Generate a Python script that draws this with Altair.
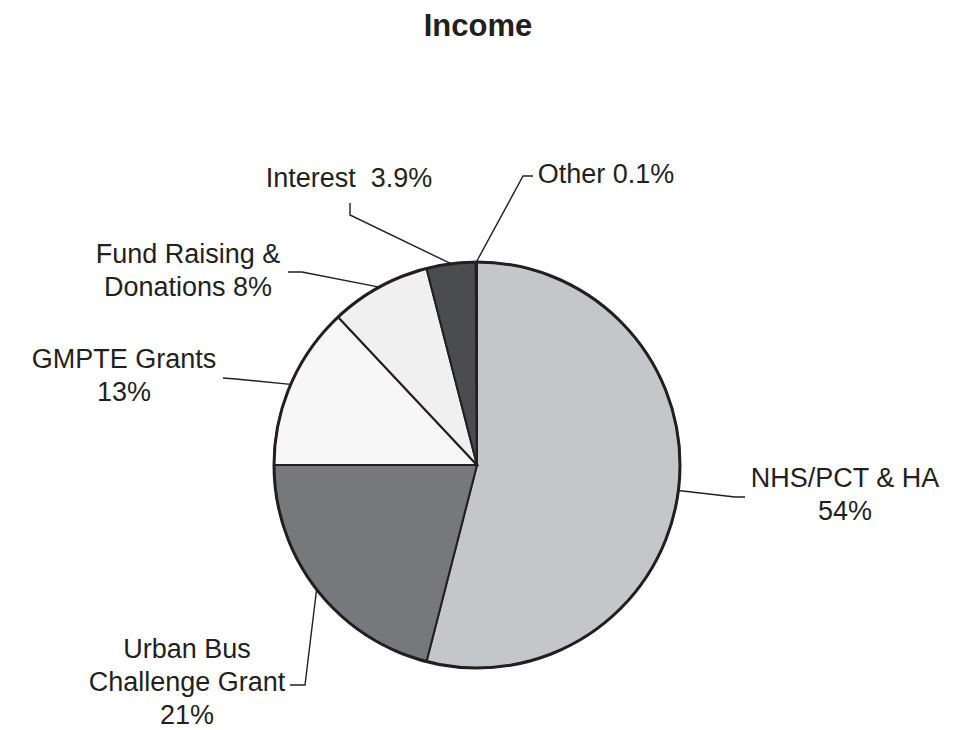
import math
import altair as alt
import pandas as pd

# ---- data ----
categories = ["NHS/PCT & HA", "Urban Bus Challenge Grant", "GMPTE Grants",
              "Fund Raising & Donations", "Interest", "Other"]
values = [54, 21, 13, 8, 3.9, 0.1]
label_texts = ["NHS/PCT & HA\n54%", "Urban Bus\nChallenge Grant\n21%", "GMPTE Grants\n13%",
               "Fund Raising &\nDonations 8%", "Interest\u00a0\u00a03.9%", "Other 0.1%"]
colors = ["#c5c6c9", "#77787c", "#f7f7f7", "#eff0ef", "#4b4c4e", "#ffffff"]
title_text = "Income"

# ---- layout (view pixels) ----
W, H = 946, 722
CX, CY = 469, 457
R = 203
INK = "#231f20"
FONT = "Liberation Sans"
LINE_H = 33

label_layout = [
    dict(tx=837, ty=479, elbow=(727, 489), end=(737, 489)),
    dict(tx=179, ty=650, elbow=(297, 677), end=(282, 677)),
    dict(tx=116, ty=360, elbow=(228, 371), end=(215, 370)),
    dict(tx=180, ty=255, elbow=(294, 264), end=(280, 264)),
    dict(tx=341, ty=179, elbow=(342, 207), end=(342, 195)),
    dict(tx=598, ty=175, elbow=(515, 168), end=(525, 168)),
]

pie_df = pd.DataFrame({"category": categories, "value": values, "idx": range(len(values))})

total = sum(values)
leader_rows, text_rows = [], []
cum = 0.0
for i, (cat, v, txt, lay) in enumerate(zip(categories, values, label_texts, label_layout)):
    mid = (cum + v / 2) / total * 2 * math.pi
    cum += v
    sx, sy = CX + R * math.sin(mid), CY - R * math.cos(mid)
    pts = [(sx, sy), lay["elbow"], lay["end"]]
    for k, (px, py) in enumerate(pts):
        leader_rows.append({"cat": cat, "step": k, "px": px, "py": py})
    for j, line in enumerate(txt.split("\n")):
        text_rows.append({"cat": cat, "text": line, "px": lay["tx"], "py": lay["ty"] + j * LINE_H})

leader_df = pd.DataFrame(leader_rows)
text_df = pd.DataFrame(text_rows)

xs = alt.Scale(domain=[0, W], range=[0, W])
ys = alt.Scale(domain=[0, H], range=[0, H])

pie = alt.Chart(pie_df).mark_arc(outerRadius=R, stroke=INK, strokeWidth=2).encode(
    theta=alt.Theta("value:Q", stack=True),
    order=alt.Order("idx:Q"),
    color=alt.Color("category:N", scale=alt.Scale(domain=categories, range=colors), legend=None),
    x=alt.value(CX),
    y=alt.value(CY),
)

ring = alt.Chart(pd.DataFrame({"v": [1]})).mark_arc(
    outerRadius=R, fillOpacity=0, stroke=INK, strokeWidth=3
).encode(theta=alt.Theta("v:Q"), x=alt.value(CX), y=alt.value(CY))

leaders = alt.Chart(leader_df).mark_line(color=INK, strokeWidth=1.4).encode(
    x=alt.X("px:Q", scale=xs, axis=None),
    y=alt.Y("py:Q", scale=ys, axis=None),
    detail="cat:N",
    order="step:Q",
)

labels = alt.Chart(text_df).mark_text(
    font=FONT, fontSize=27, color=INK, align="center", baseline="alphabetic"
).encode(
    x=alt.X("px:Q", scale=xs, axis=None),
    y=alt.Y("py:Q", scale=ys, axis=None),
    text="text:N",
)

title = alt.Chart(pd.DataFrame({"t": [title_text], "px": [470], "py": [28]})).mark_text(
    font=FONT, fontSize=31, fontWeight="bold", color=INK, align="center", baseline="alphabetic"
).encode(
    x=alt.X("px:Q", scale=xs, axis=None),
    y=alt.Y("py:Q", scale=ys, axis=None),
    text="t:N",
)

chart = alt.layer(pie, ring, leaders, labels, title).resolve_scale(
    theta="independent", color="independent"
).properties(
    width=W, height=H, padding=0, autosize=alt.AutoSizeParams(type="none")
).configure_view(stroke=None)

chart.save("out.html", embed_options={"renderer": "svg", "actions": False})
